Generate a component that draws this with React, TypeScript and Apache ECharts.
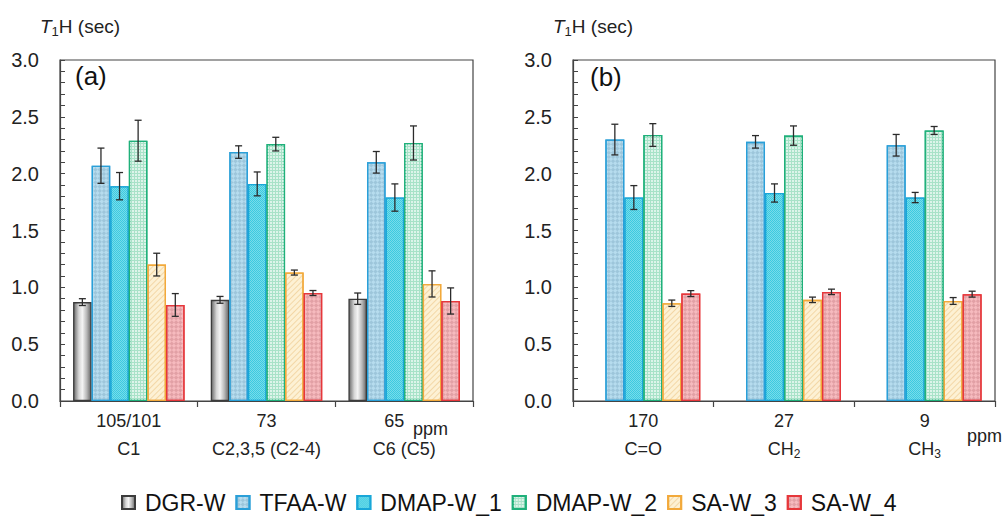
import React, { useEffect, useRef } from 'react';
import * as echarts from 'echarts';

const seriesNames = ['DGR-W', 'TFAA-W', 'DMAP-W_1', 'DMAP-W_2', 'SA-W_3', 'SA-W_4'];

const catsA = ['105/101', '73', '65'];
const subA = [['C1', ''], ['C2,3,5 (C2-4)', ''], ['C6 (C5)', '']];
const catsB = ['170', '27', '9'];
const subB = [['C=O', ''], ['CH', '2'], ['CH', '3']];

const yTicks = [0, 0.5, 1.0, 1.5, 2.0, 2.5, 3.0];

// panel (a) values per series (rows) and category (columns)
const valsA_DGR = [0.87, 0.89, 0.9];
const valsA_TFAA = [2.07, 2.19, 2.1];
const valsA_DMAP1 = [1.89, 1.91, 1.79];
const valsA_DMAP2 = [2.29, 2.26, 2.27];
const valsA_SA3 = [1.2, 1.13, 1.03];
const valsA_SA4 = [0.845, 0.95, 0.88];

const errA_DGR = [0.03, 0.03, 0.05];
const errA_TFAA = [0.155, 0.055, 0.095];
const errA_DMAP1 = [0.12, 0.105, 0.12];
const errA_DMAP2 = [0.18, 0.06, 0.15];
const errA_SA3 = [0.1, 0.022, 0.115];
const errA_SA4 = [0.1, 0.022, 0.115];

// panel (b)
const valsB_DGR = [null, null, null];
const valsB_TFAA = [2.3, 2.28, 2.25];
const valsB_DMAP1 = [1.79, 1.83, 1.79];
const valsB_DMAP2 = [2.34, 2.335, 2.38];
const valsB_SA3 = [0.86, 0.89, 0.88];
const valsB_SA4 = [0.945, 0.96, 0.94];

const errB_DGR = [null, null, null];
const errB_TFAA = [0.135, 0.055, 0.095];
const errB_DMAP1 = [0.105, 0.08, 0.045];
const errB_DMAP2 = [0.1, 0.085, 0.035];
const errB_SA3 = [0.028, 0.024, 0.03];
const errB_SA4 = [0.026, 0.024, 0.026];

const valsA = [valsA_DGR, valsA_TFAA, valsA_DMAP1, valsA_DMAP2, valsA_SA3, valsA_SA4];
const errsA = [errA_DGR, errA_TFAA, errA_DMAP1, errA_DMAP2, errA_SA3, errA_SA4];
const valsB = [valsB_DGR, valsB_TFAA, valsB_DMAP1, valsB_DMAP2, valsB_SA3, valsB_SA4];
const errsB = [errB_DGR, errB_TFAA, errB_DMAP1, errB_DMAP2, errB_SA3, errB_SA4];

const CAT_GAP = 0.19;
const FONT = 'Arial, "Liberation Sans", sans-serif';

function makeStyles() {
  return [
    {
      color: new echarts.graphic.LinearGradient(0, 0, 1, 0, [
        { offset: 0, color: '#6a6a6a' },
        { offset: 0.3, color: '#d6d6d6' },
        { offset: 0.5, color: '#f4f4f4' },
        { offset: 0.75, color: '#b8b8b8' },
        { offset: 1, color: '#666666' },
      ]),
      borderColor: '#3c3c3c',
      decal: null,
    },
    {
      color: '#b6dcee',
      borderColor: '#2a9fd8',
      decal: {
        symbol: 'rect', symbolSize: 1, color: 'rgba(120,165,190,0.4)',
        dashArrayX: [[3, 3], [0, 3, 3, 0]], dashArrayY: [3, 0], rotation: Math.PI / 4,
      },
    },
    {
      color: '#3ccbe0',
      borderColor: '#19a7d8',
      decal: {
        symbol: 'rect', symbolSize: 1, color: 'rgba(190,240,248,0.45)',
        dashArrayX: [[1, 1], [0, 1, 1, 0]], dashArrayY: [1, 0],
      },
    },
    {
      color: '#a8e2c8',
      borderColor: '#1fb07a',
      decal: {
        symbol: 'rect', symbolSize: 1, color: 'rgba(228,247,238,0.9)',
        dashArrayX: [2, 1], dashArrayY: [2, 1],
      },
    },
    {
      color: '#fdf1d4',
      borderColor: '#f2a93b',
      decal: {
        symbol: 'rect', symbolSize: 1, color: 'rgba(232,185,110,0.45)',
        dashArrayX: [1, 0], dashArrayY: [1, 2.5], rotation: -Math.PI / 4,
      },
    },
    {
      color: '#f6babe',
      borderColor: '#e6373b',
      decal: {
        symbol: 'rect', symbolSize: 1, color: 'rgba(195,120,128,0.4)',
        dashArrayX: [[3, 3], [0, 3, 3, 0]], dashArrayY: [3, 0], rotation: Math.PI / 4,
      },
    },
  ];
}

function errSeries(gi: number, si: number, vals: any[], errs: any[]) {
  const data: any[] = [];
  vals.forEach((v, ci) => {
    if (v != null) data.push([ci, v, errs[ci]]);
  });
  return {
    type: 'custom',
    name: 'err-' + gi + '-' + si,
    xAxisIndex: gi,
    yAxisIndex: gi,
    z: 10,
    silent: true,
    clip: false,
    encode: { x: 0, y: 1 },
    data,
    renderItem: (params: any, api: any) => {
      const ci = api.value(0);
      const v = api.value(1);
      const e = api.value(2);
      const band = api.size([1, 0])[0];
      const bw = (band * (1 - CAT_GAP)) / 6;
      const base = api.coord([ci, v]);
      const x = base[0] + (si - 2.5) * bw;
      const yt = api.coord([ci, v + e])[1];
      const yb = api.coord([ci, v - e])[1];
      const st = { stroke: '#2b2b2b', lineWidth: 1.3 };
      const cw = 3.5;
      return {
        type: 'group',
        children: [
          { type: 'line', shape: { x1: x, y1: yt, x2: x, y2: yb }, style: st },
          { type: 'line', shape: { x1: x - cw, y1: yt, x2: x + cw, y2: yt }, style: st },
          { type: 'line', shape: { x1: x - cw, y1: yb, x2: x + cw, y2: yb }, style: st },
        ],
      };
    },
  };
}

function xAxisFor(gi: number, cats: string[], subs: string[][], shiftLast: boolean) {
  return {
    type: 'category',
    gridIndex: gi,
    data: cats,
    axisLine: { show: true, lineStyle: { color: '#444', width: 1.2 } },
    axisTick: { show: true, alignWithLabel: false, inside: false, length: 6, lineStyle: { color: '#444', width: 1.2 } },
    axisLabel: {
      margin: 6,
      color: '#222',
      fontFamily: FONT,
      formatter: (val: string, idx: number) => {
        const s = subs[idx];
        const second = s[1] ? '{l|' + s[0] + '}{s|' + s[1] + '}' : '{l|' + s[0] + '}';
        const first = shiftLast && idx === cats.length - 1 ? '{m|' + val + '}' : '{n|' + val + '}';
        return first + '\n' + second;
      },
      rich: {
        n: { fontSize: 18, lineHeight: 28, color: '#222', fontFamily: FONT },
        m: { fontSize: 18, lineHeight: 28, color: '#222', fontFamily: FONT, padding: [0, 20, 0, 0] },
        l: { fontSize: 18, lineHeight: 28, color: '#222', fontFamily: FONT },
        s: { fontSize: 12, color: '#222', fontFamily: FONT, padding: [10, 0, 0, 0] },
      },
    },
    splitLine: { show: false },
  };
}

function yAxisFor(gi: number) {
  return {
    type: 'value',
    gridIndex: gi,
    min: yTicks[0],
    max: yTicks[yTicks.length - 1],
    interval: 0.5,
    axisLine: { show: true, lineStyle: { color: '#444', width: 1.2 } },
    axisTick: { show: true, inside: true, length: 5, lineStyle: { color: '#444', width: 1 } },
    minorTick: { show: true, splitNumber: 5, length: 5, lineStyle: { color: '#444', width: 1 } },
    splitLine: { show: false },
    axisLabel: {
      margin: 21,
      fontSize: 20,
      color: '#222',
      fontFamily: FONT,
      formatter: (v: number) => v.toFixed(1),
    },
  };
}

export default function App() {
  const ref = useRef<HTMLDivElement>(null);
  useEffect(() => {
    if (!ref.current) return;
    const chart = echarts.init(ref.current, null, { renderer: 'svg' });
    const styles = makeStyles();
    const series: any[] = [];
    [valsA, valsB].forEach((vals, gi) => {
      vals.forEach((arr, si) => {
        const st = styles[si];
        const itemStyle: any = { color: st.color, borderColor: st.borderColor, borderWidth: 1.3 };
        if (st.decal) itemStyle.decal = st.decal;
        series.push({
          type: 'bar',
          name: seriesNames[si],
          xAxisIndex: gi,
          yAxisIndex: gi,
          data: arr,
          barGap: '0%',
          barCategoryGap: CAT_GAP * 100 + '%',
          itemStyle,
          emphasis: { disabled: true },
        });
      });
    });
    [[valsA, errsA], [valsB, errsB]].forEach(([vals, errs], gi) => {
      (vals as any[]).forEach((arr, si) => {
        if (arr.some((v: any) => v != null)) series.push(errSeries(gi, si, arr, (errs as any[])[si]));
      });
    });

    const titleText = (x: number) => ({
      type: 'text',
      left: x,
      top: 17,
      style: {
        text: '{i|T}{s|1}{n|H (sec)}',
        rich: {
          i: { fontSize: 19, fontStyle: 'italic', fontFamily: FONT, fill: '#222', color: '#222' },
          s: { fontSize: 13, fontFamily: FONT, fill: '#222', color: '#222', padding: [9, 0, 0, 0] },
          n: { fontSize: 19, fontFamily: FONT, fill: '#222', color: '#222' },
        },
      },
    });

    const option: any = {
      animation: false,
      backgroundColor: '#ffffff',
      grid: [
        { left: 60, top: 60, width: 413, height: 341, show: true, borderColor: '#444', borderWidth: 1.2 },
        { left: 573, top: 60, width: 422, height: 341, show: true, borderColor: '#444', borderWidth: 1.2 },
      ],
      xAxis: [xAxisFor(0, catsA, subA, true), xAxisFor(1, catsB, subB, false)],
      yAxis: [yAxisFor(0), yAxisFor(1)],
      legend: {
        data: seriesNames,
        left: 116,
        top: 486,
        itemWidth: 13,
        itemHeight: 13,
        itemGap: 10,
        icon: 'rect',
        selectedMode: false,
        textStyle: { fontSize: 23, color: '#111', fontFamily: FONT, padding: [0, 0, 0, 5] },
      },
      graphic: [
        titleText(40),
        titleText(553),
        { type: 'text', left: 75, top: 63, style: { text: '(a)', fontSize: 26, fontFamily: FONT, fill: '#111' } },
        { type: 'text', left: 590, top: 64, style: { text: '(b)', fontSize: 26, fontFamily: FONT, fill: '#111' } },
        { type: 'text', left: 413, top: 420, style: { text: 'ppm', fontSize: 18, fontFamily: FONT, fill: '#222' } },
        { type: 'text', left: 967, top: 427, style: { text: 'ppm', fontSize: 18, fontFamily: FONT, fill: '#222' } },
      ],
      series,
    };
    chart.setOption(option);
    return () => chart.dispose();
  }, []);
  return <div ref={ref} style={{ position: 'absolute', left: 0, top: 0, width: 1003, height: 516 }} />;
}
